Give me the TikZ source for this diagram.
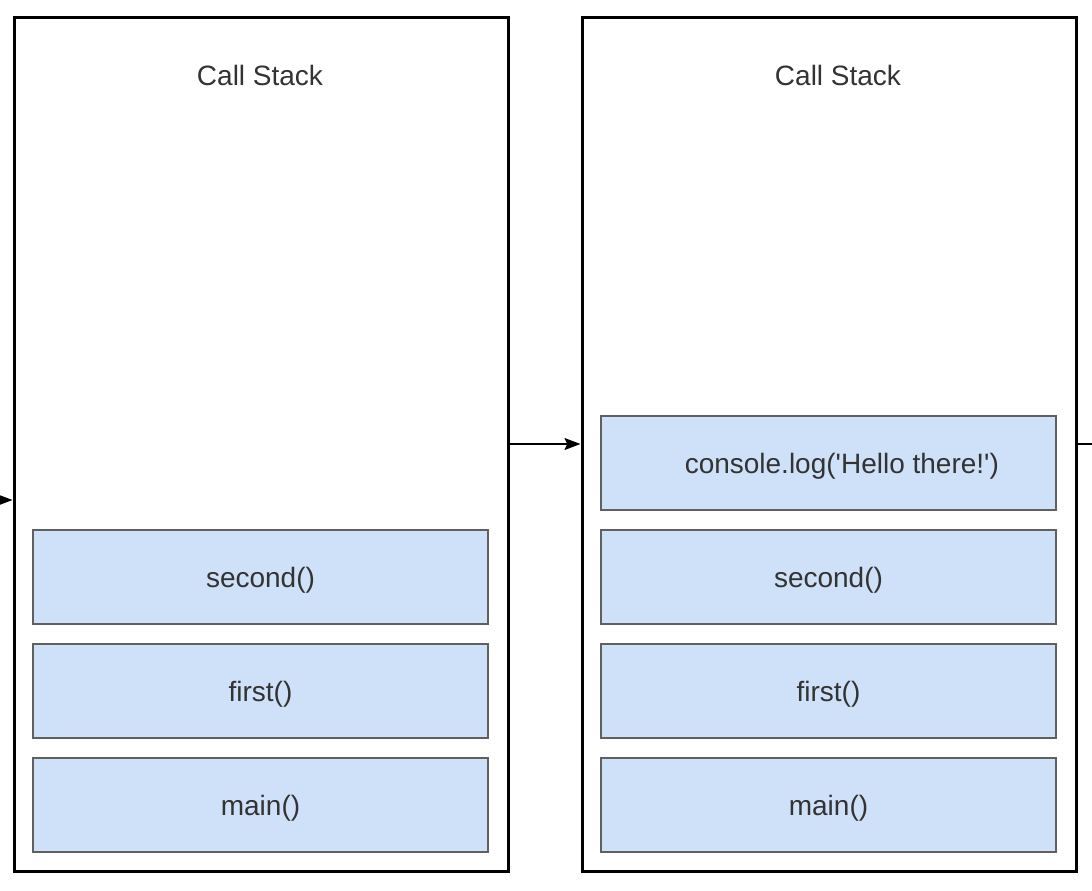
\documentclass[tikz,border=0pt]{standalone}
\usepackage{fontspec}
\setmainfont{Liberation Sans}
\usetikzlibrary{arrows.meta}

\definecolor{framefill}{RGB}{206,225,249}
\definecolor{framedraw}{RGB}{96,96,96}
\definecolor{labeltext}{RGB}{51,51,51}

\tikzset{every picture/.style={line width=0.75pt}}
\tikzset{
  stackbox/.style={draw=black, line width=2.25pt, minimum width=494*0.75pt, minimum height=854*0.75pt, inner sep=0pt},
  framebox/.style={draw=framedraw, fill=framefill, line width=1.1pt, minimum width=455*0.75pt, minimum height=94*0.75pt, inner sep=0pt, text depth=0pt, text=labeltext, font=\fontsize{21}{25}\selectfont},
  titletext/.style={inner sep=0.75pt, text=labeltext, font=\fontsize{21}{25}\selectfont},
  flow/.style={line width=1.1pt, -{Stealth[length=12pt, width=9pt, inset=2pt]}}
}

\begin{document}
\begin{tikzpicture}[x=0.75pt,y=0.75pt,yscale=-1,xscale=1]
\useasboundingbox (0,0) rectangle (1092,890);

%Rectangle
\node [stackbox] (stackL) at (261,444) {};
%Rectangle
\node [stackbox] (stackR) at (829,444) {};

%Rectangle
\node [framebox] (secondL) at (260.5,577) {second()};
%Rectangle
\node [framebox] (firstL) at (260.5,691) {first()};
%Rectangle
\node [framebox] (mainL) at (260.5,805) {main()};

%Rectangle
\node [framebox] (logR) at (828.5,463) {\hspace{20pt}console.log(\textquotesingle Hello there!\textquotesingle)};
%Rectangle
\node [framebox] (secondR) at (828.5,577) {second()};
%Rectangle
\node [framebox] (firstR) at (828.5,691) {first()};
%Rectangle
\node [framebox] (mainR) at (828.5,805) {main()};

% Text Node
\node [titletext] (titleL) at (260,75) {Call Stack};
% Text Node
\node [titletext] (titleR) at (838,75) {Call Stack};

%Straight Lines
\coordinate (inL) at (0,500);
\draw [flow] (inL) -- (stackL.west |- inL);
%Straight Lines
\draw [flow] (stackL.east) -- (stackR.west);
%Straight Lines
\coordinate (outR) at (1092,444);
\draw [line width=1.1pt] (stackR.east) -- (outR);

\end{tikzpicture}
\end{document}
